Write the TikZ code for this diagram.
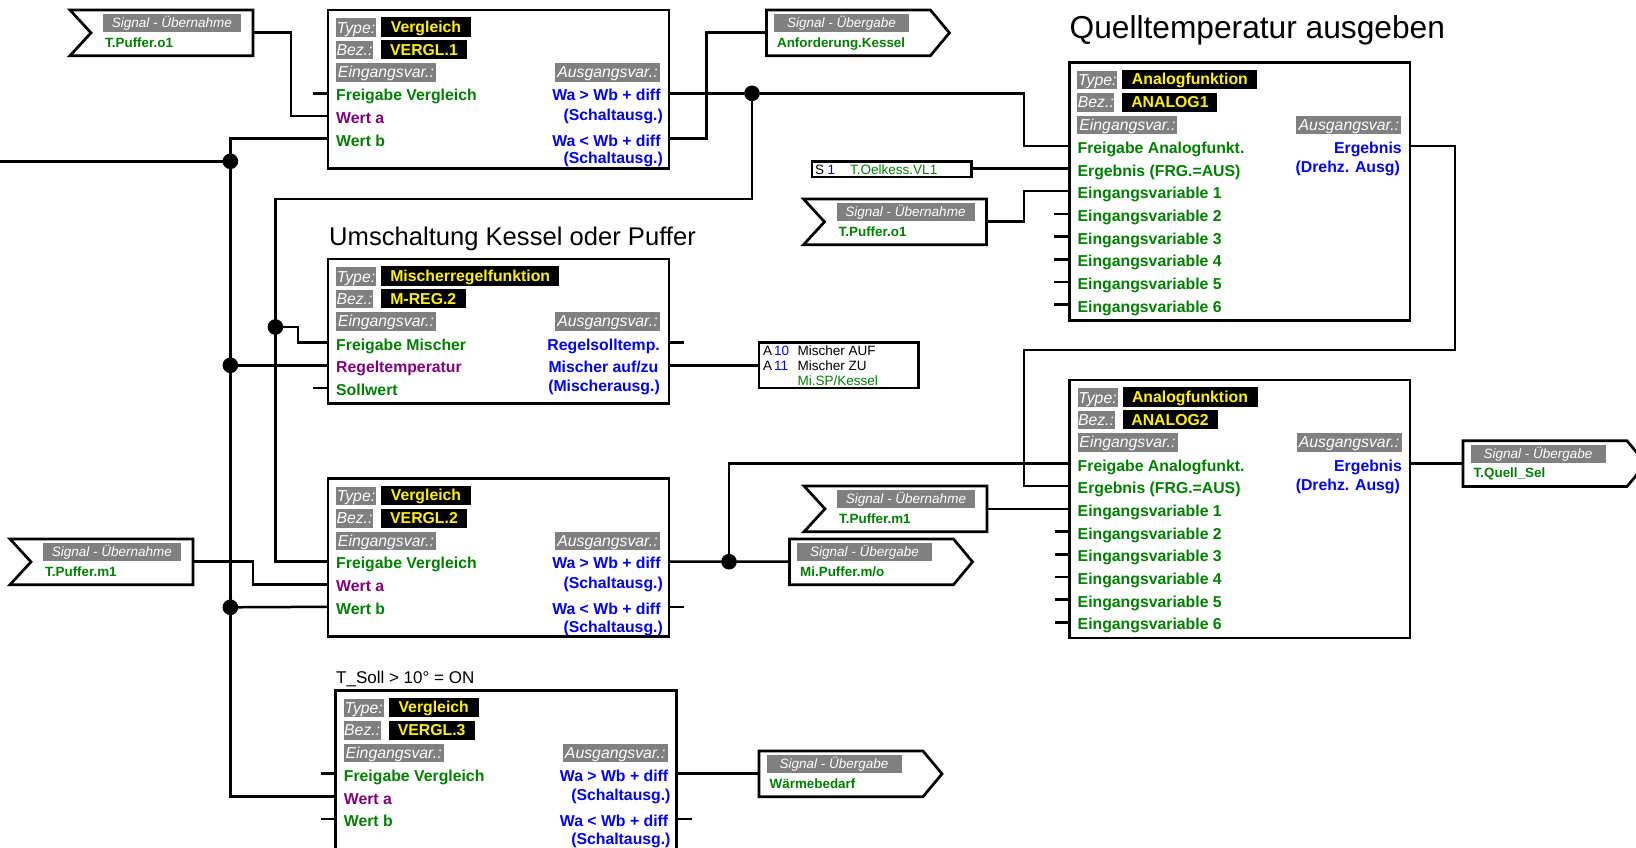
\documentclass[tikz,border=0pt]{standalone}
\usepackage{fontspec}
\setmainfont{Liberation Sans}
\definecolor{tgreen}{HTML}{008000}
\definecolor{tblue}{HTML}{0000FF}
\definecolor{tpurple}{HTML}{800080}
\definecolor{tgray}{HTML}{808080}
\tikzset{
  blockbox/.style={draw=black,line width=2.7pt,fill=white,anchor=north west,inner sep=0pt,outer sep=0pt},
  outline/.style={draw=black,line width=2.7pt,fill=white,miter limit=10},
  wire/.style={draw=black,line width=2.5pt,line cap=butt,line join=miter},
  junction/.style={circle,fill=black,draw=none,minimum size=15.6pt,inner sep=0pt,outer sep=0pt},
  graybox/.style={fill=tgray,text=white,anchor=north west,inner sep=0pt,outer sep=0pt,font=\itshape\fontsize{15.8pt}{17pt}\selectfont,text height=11pt,text depth=0.3pt},
  blackbox/.style={fill=black,text=yellow,anchor=north west,inner sep=0pt,outer sep=0pt,font=\bfseries\fontsize{15.8pt}{17pt}\selectfont,text height=11pt,text depth=0.3pt},
  siggray/.style={fill=tgray,text=white,anchor=north west,inner sep=0pt,outer sep=0pt,minimum height=18pt,font=\itshape\fontsize{13.5pt}{15pt}\selectfont,text height=9.5pt,text depth=0.3pt},
  signame/.style={anchor=base west,inner sep=0pt,text=tgreen,font=\bfseries\fontsize{13.4pt}{15pt}\selectfont},
  inlbl/.style={anchor=base west,inner sep=0pt,font=\bfseries\fontsize{15.8pt}{17pt}\selectfont},
  outlbl/.style={anchor=base east,inner sep=0pt,text=tblue,font=\bfseries\fontsize{15.8pt}{17pt}\selectfont},
  smalltxt/.style={anchor=base west,inner sep=0pt,font=\fontsize{13.5pt}{15pt}\selectfont},
  titletxt/.style={anchor=base west,inner sep=0pt}
}
% common header of a function block (inside the block's scope)
\newcommand{\blkhead}[5]{%
  \node[graybox,minimum width=40pt,minimum height=18.7pt] (#1-tl) at (8,8.3) {Type:};
  \node[blackbox,minimum width=#3pt,minimum height=19.7pt] (#1-tv) at (53,7.3) {#2};
  \node[graybox,minimum width=37pt,minimum height=18.7pt] (#1-bl) at (8,30.6) {Bez.:};
  \node[blackbox,minimum width=#5pt,minimum height=19pt] (#1-bv) at (53,30.4) {#4};
  \node[graybox,minimum width=100pt,minimum height=18.7pt] (#1-el) at (8,53.2) {Eingangsvar.:};
  \node[graybox,minimum width=105pt,minimum height=18.7pt] (#1-al) at (227,53.2) {Ausgangsvar.:};
}
% comparison block: name, x, y, bez, bez width
\newcommand{\cmpblock}[5]{%
  \begin{scope}[shift={(#2,#3)}]
    \node[blockbox,minimum width=341pt,minimum height=158.5pt] (#1) at (0,0) {};
    \blkhead{#1}{Vergleich}{90}{#4}{#5}
    \node[inlbl,text=tgreen] (#1-n1) at (8,90.6) {Freigabe Vergleich};
    \node[inlbl,text=tpurple] (#1-n2) at (8,113.6) {Wert a};
    \node[inlbl,text=tgreen] (#1-n3) at (8,136) {Wert b};
    \node[outlbl] (#1-r1) at (332.7,90.6) {Wa > Wb + diff};
    \node[outlbl] (#1-r2) at (335,110) {(Schaltausg.)};
    \node[outlbl] (#1-r3) at (332.7,136) {Wa < Wb + diff};
    \node[outlbl] (#1-r4) at (335,153.7) {(Schaltausg.)};
    \coordinate (#1-i1) at (0,83.3);
    \coordinate (#1-i2) at (0,106);
    \coordinate (#1-i3) at (0,128.5);
    \coordinate (#1-o1) at (341,83.3);
    \coordinate (#1-o2) at (341,128.5);
  \end{scope}
}
% analog block: name, x, y, bez
\newcommand{\anablock}[4]{%
  \begin{scope}[shift={(#2,#3)}]
    \node[blockbox,minimum width=340.5pt,minimum height=258pt] (#1) at (0,0) {};
    \blkhead{#1}{Analogfunktion}{135}{#4}{95}
    \node[inlbl,text=tgreen] (#1-n1) at (8,91) {Freigabe Analogfunkt.};
    \node[inlbl,text=tgreen] (#1-n2) at (8,113.7) {Ergebnis (FRG.=AUS)};
    \node[inlbl,text=tgreen] (#1-n3) at (8,136.4) {Eingangsvariable 1};
    \node[inlbl,text=tgreen] (#1-n4) at (8,159.1) {Eingangsvariable 2};
    \node[inlbl,text=tgreen] (#1-n5) at (8,181.8) {Eingangsvariable 3};
    \node[inlbl,text=tgreen] (#1-n6) at (8,204.5) {Eingangsvariable 4};
    \node[inlbl,text=tgreen] (#1-n7) at (8,227.2) {Eingangsvariable 5};
    \node[inlbl,text=tgreen] (#1-n8) at (8,249.9) {Eingangsvariable 6};
    \node[outlbl] (#1-r1) at (332.5,91) {Ergebnis};
    \node[outlbl] (#1-r2) at (330.6,110) {(Drehz. Ausg)};
    \coordinate (#1-i1) at (0,83.5);
    \coordinate (#1-i2) at (0,106.2);
    \coordinate (#1-i3) at (0,128.9);
    \coordinate (#1-i4) at (0,151.6);
    \coordinate (#1-i5) at (0,174.3);
    \coordinate (#1-i6) at (0,197);
    \coordinate (#1-i7) at (0,219.7);
    \coordinate (#1-i8) at (0,242.4);
    \coordinate (#1-o1) at (340.5,83.5);
  \end{scope}
}
% incoming signal flag: name, x, y, text
\newcommand{\signalin}[4]{%
  \begin{scope}[shift={(#2,#3)}]
    \path[outline] (0,0) -- (183,0) -- (183,45.7) -- (0,45.7) -- (21,22.85) -- cycle;
    \node[siggray,minimum width=138pt] (#1-h) at (33,4) {Signal - Übernahme};
    \node[signame] (#1-n) at (35,37.4) {#4};
    \coordinate (#1-p) at (183,22.7);
  \end{scope}
}
% outgoing signal flag: name, x, y, text
\newcommand{\signalout}[4]{%
  \begin{scope}[shift={(#2,#3)}]
    \path[outline] (0,0) -- (164,0) -- (183,22.85) -- (164,45.7) -- (0,45.7) -- cycle;
    \node[siggray,minimum width=135pt] (#1-h) at (7.5,4) {Signal - Übergabe};
    \node[signame] (#1-n) at (10.5,37) {#4};
    \coordinate (#1-p) at (0,22.7);
  \end{scope}
}
% unconnected stub: port, dx
\newcommand{\stub}[2]{%
  \coordinate (#1-end) at ([xshift=#2pt]#1);
  \draw[wire] (#1) -- (#1-end);
}
\begin{document}
\begin{tikzpicture}[x=1pt,y=-1pt]
\useasboundingbox (0,0) rectangle (1636,847);
\clip (0,0) rectangle (1636,847);
\fill[white] (0,0) rectangle (1636,847);

% titles
\node[titletxt,font=\fontsize{31.7pt}{34pt}\selectfont] (title1) at (1069.4,38.4) {Quelltemperatur ausgeben};
\node[titletxt,font=\fontsize{25.6pt}{28pt}\selectfont] (title2) at (329,245) {Umschaltung Kessel oder Puffer};
\node[titletxt,font=\fontsize{17pt}{19pt}\selectfont] (title3) at (336,683.3) {T\_Soll > 10° = ON};

% blocks
\cmpblock{v1}{328}{10}{VERGL.1}{86}
\cmpblock{v2}{328}{478.3}{VERGL.2}{86}
\cmpblock{v3}{335.7}{690.4}{VERGL.3}{86}
\begin{scope}[shift={(328,259)}]
  \node[blockbox,minimum width=341pt,minimum height=144.3pt] (m) at (0,0) {};
  \blkhead{m}{Mischerregelfunktion}{178.4}{M-REG.2}{84.6}
  \node[inlbl,text=tgreen] (m-n1) at (8,91.3) {Freigabe Mischer};
  \node[inlbl,text=tpurple] (m-n2) at (8,113.3) {Regeltemperatur};
  \node[inlbl,text=tgreen] (m-n3) at (8,136) {Sollwert};
  \node[outlbl] (m-r1) at (332,91.3) {Regelsolltemp.};
  \node[outlbl] (m-r2) at (330.5,113.3) {Mischer auf/zu};
  \node[outlbl] (m-r3) at (332,132.3) {(Mischerausg.)};
  \coordinate (m-i1) at (0,83.3);
  \coordinate (m-i2) at (0,106.3);
  \coordinate (m-i3) at (0,129);
  \coordinate (m-o1) at (341,83.3);
  \coordinate (m-o2) at (341,106.3);
\end{scope}
\anablock{a1}{1069.4}{62.3}{ANALOG1}
\anablock{a2}{1069.5}{380}{ANALOG2}

% signal flags
\signalin{su1}{70}{10}{T.Puffer.o1}
\signalin{su2}{10}{539}{T.Puffer.m1}
\signalin{su3}{803.5}{199}{T.Puffer.o1}
\signalin{su4}{804}{486}{T.Puffer.m1}
\signalout{so1}{766.4}{10}{Anforderung.Kessel}
\signalout{so2}{789.5}{539}{Mi.Puffer.m/o}
\signalout{so3}{1463}{440.8}{T.Quell\_Sel}
\signalout{so4}{759}{751}{Wärmebedarf}

% S1 box
\node[blockbox,minimum width=159.5pt,minimum height=15.7pt] (s1) at (812,161.3) {};
\node[smalltxt] (s1a) at (815,174) {S};
\node[smalltxt,text=tblue] (s1b) at (827.5,174) {1};
\node[smalltxt,text=tgreen] (s1c) at (850,174) {T.Oelkess.VL1};

% A10/A11 box
\node[blockbox,minimum width=159.6pt,minimum height=45.7pt] (aus) at (759,342.3) {};
\node[smalltxt] (aus1a) at (763,355.4) {A};
\node[smalltxt,text=tblue] (aus1b) at (774,355.4) {10};
\node[smalltxt] (aus1c) at (797.4,355.4) {Mischer AUF};
\node[smalltxt] (aus2a) at (763,370.6) {A};
\node[smalltxt,text=tblue] (aus2b) at (774,370.6) {11};
\node[smalltxt] (aus2c) at (797.4,370.6) {Mischer ZU};
\node[smalltxt,text=tgreen] (aus3c) at (797.4,385.6) {Mi.SP/Kessel};

% junctions and routing helpers
\coordinate (lin) at (0,161.3);
\coordinate (xa) at (291,0);
\coordinate (xb) at (253,0);
\coordinate (xc) at (298,0);
\coordinate (xd) at (706.3,0);
\coordinate (xe) at (1023.8,0);
\coordinate (xf) at (1455,0);
\coordinate (ya) at (0,199);
\coordinate (yb) at (0,350);

\node[junction] (d1) at (230.4,161.3) {};
\node[junction] (d2) at (275.4,327) {};
\node[junction] (d3) at (230.4,365.3) {};
\node[junction] (d4) at (752,93.3) {};
\node[junction] (d5) at (230.4,607.3) {};
\node[junction] (d6) at (729,561.7) {};

% connectors
\draw[wire] (lin) -- (d1.center);
\draw[wire] (v1-i3) -- (v1-i3 -| d1.center) -- (v3-i2 -| d1.center) -- (v3-i2);
\draw[wire] (su1-p) -- (su1-p -| xa) -- (v1-i2 -| xa) -- (v1-i2);
\draw[wire] (v1-o1) -- (v1-o1 -| xe) -- (a1-i1 -| xe) -- (a1-i1);
\draw[wire] (v1-o2) -- (v1-o2 -| xd) -- (so1-p -| xd) -- (so1-p);
\draw[wire] (d4.center) -- (d4.center |- ya) -- (d2.center |- ya) -- (v2-i1 -| d2.center) -- (v2-i1);
\draw[wire] (d2.center) -- (d2.center -| xc) -- (m-i1 -| xc) -- (m-i1);
\draw[wire] (d3.center) -- (m-i2);
\draw[wire] (m-o2) -- (m-o2 -| aus.west);
\draw[wire] (su2-p) -- (su2-p -| xb) -- (v2-i2 -| xb) -- (v2-i2);
\draw[wire] (d5.center) -- (v2-i3);
\draw[wire] (v2-o1) -- (so2-p);
\draw[wire] (d6.center) -- (d6.center |- a2-i1) -- (a2-i1);
\draw[wire] (a1-i2 -| s1.east) -- (a1-i2);
\draw[wire] (su3-p) -- (su3-p -| xe) -- (a1-i3 -| xe) -- (a1-i3);
\draw[wire] (a1-o1) -- (a1-o1 -| xf) -- (yb -| xf) -- (yb -| xe) -- (a2-i2 -| xe) -- (a2-i2);
\draw[wire] (a2-i3 -| su4-p) -- (a2-i3);
\draw[wire] (a2-o1) -- (a2-o1 -| so3-p);
\draw[wire] (v3-o1) -- (v3-o1 -| so4-p);

% unconnected stubs
\stub{v1-i1}{-15}
\stub{m-i3}{-15}
\stub{m-o1}{15}
\stub{v2-o2}{15}
\stub{v3-i1}{-15}
\stub{v3-i3}{-15}
\stub{v3-o2}{15}
\stub{a1-i4}{-15}
\stub{a1-i5}{-15}
\stub{a1-i6}{-15}
\stub{a1-i7}{-15}
\stub{a1-i8}{-15}
\stub{a2-i4}{-15}
\stub{a2-i5}{-15}
\stub{a2-i6}{-15}
\stub{a2-i7}{-15}
\stub{a2-i8}{-15}
\end{tikzpicture}
\end{document}
